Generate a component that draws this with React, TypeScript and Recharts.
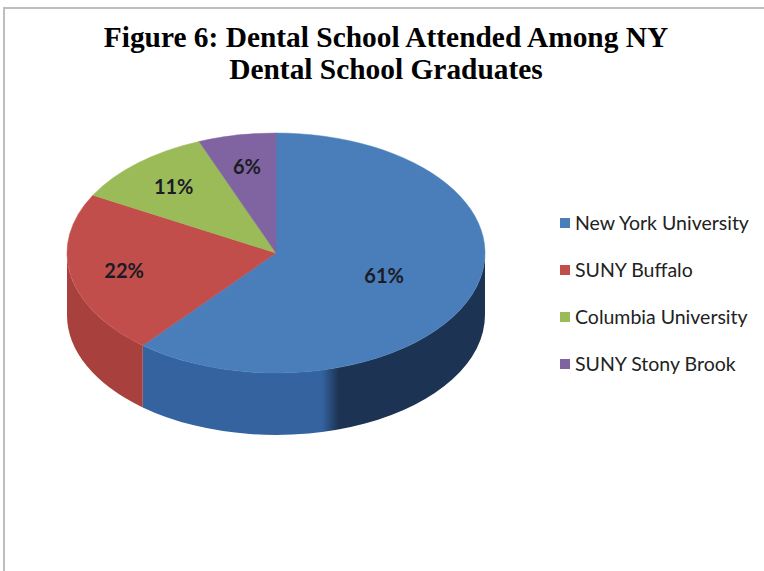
import React from "react";
import { PieChart, Pie, Cell, Legend } from "recharts";

const categories = [
  "New York University",
  "SUNY Buffalo",
  "Columbia University",
  "SUNY Stony Brook",
];
const shares = [61, 22, 11, 6];
const topColors = ["#4a7ebb", "#c24e4b", "#9bbb59", "#8064a2"];
const sideLight = ["#3463a0", "#a8413e", "#7d9a44", "#664f85"];
const sideDark = ["#1d3353", "#8a312e", "#5f7733", "#4c3a64"];

const data = categories.map((name, i) => ({ name, value: shares[i] }));

const TILT = 0.574; // ry / rx of the top face
const DEPTH = 62; // thickness of the disc in px
const RAD = Math.PI / 180;

function pt(cx: number, cy: number, rx: number, a: number) {
  return [cx + rx * Math.cos(a * RAD), cy - rx * TILT * Math.sin(a * RAD)];
}

function Slice3D(props: any) {
  const { cx, cy, outerRadius: rx, startAngle, endAngle, fill } = props;
  const ry = rx * TILT;
  const name = props.name ?? props.payload?.name;
  const idx = Math.max(0, categories.indexOf(name));
  const hi = Math.max(startAngle, endAngle);
  const lo = Math.min(startAngle, endAngle);

  // front rim: parts of the slice where the angle lies in the lower half
  const sides: string[] = [];
  for (let n = -2; n <= 2; n++) {
    const a = Math.max(lo, -180 + 360 * n);
    const b = Math.min(hi, 360 * n);
    if (b > a) {
      const [x1, y1] = pt(cx, cy, rx, b);
      const [x2, y2] = pt(cx, cy, rx, a);
      sides.push(
        `M${x1},${y1} A${rx},${ry} 0 0 1 ${x2},${y2} L${x2},${y2 + DEPTH} A${rx},${ry} 0 0 0 ${x1},${y1 + DEPTH} Z`
      );
    }
  }

  const [sx, sy] = pt(cx, cy, rx, hi);
  const [ex, ey] = pt(cx, cy, rx, lo);
  const large = hi - lo > 180 ? 1 : 0;
  const top = `M${cx},${cy} L${sx},${sy} A${rx},${ry} 0 ${large} 1 ${ex},${ey} Z`;

  return (
    <g>
      {sides.map((d, i) => (
        <path key={i} d={d} fill={`url(#side-${idx})`} stroke="none" />
      ))}
      <path d={top} fill={fill} stroke={fill} strokeWidth={0.5} />
    </g>
  );
}

function renderLabel(p: any) {
  const { cx, cy, midAngle, outerRadius, value } = p;
  const f = value > 50 ? 0.55 : 0.74;
  const x = cx + outerRadius * f * Math.cos(midAngle * RAD);
  const y = cy - outerRadius * TILT * f * Math.sin(midAngle * RAD);
  return (
    <text
      x={x}
      y={y}
      textAnchor="middle"
      dominantBaseline="central"
      fill="#1b1b24"
      style={{ fontFamily: "Lato, 'Open Sans', sans-serif", fontWeight: 700, fontSize: 20 }}
    >
      {`${value}%`}
    </text>
  );
}

function LegendList({ payload }: any) {
  const items = [...(payload || [])].sort(
    (a: any, b: any) => categories.indexOf(a.value) - categories.indexOf(b.value)
  );
  return (
    <ul style={{ listStyle: "none", margin: 0, padding: 0 }}>
      {items.map((e: any) => (
        <li
          key={e.value}
          style={{ display: "flex", alignItems: "center", height: 47 }}
        >
          <span
            style={{
              display: "inline-block",
              width: 10,
              height: 10,
              background: e.color,
              marginRight: 5,
            }}
          />
          <span
            style={{
              fontFamily: "Lato, 'Open Sans', sans-serif",
              fontSize: 19.5,
              color: "#222",
            }}
          >
            {e.value}
          </span>
        </li>
      ))}
    </ul>
  );
}

export default function App() {
  return (
    <div
      style={{
        position: "fixed",
        left: 0,
        top: 0,
        width: 764,
        height: 571,
        background: "#fff",
        overflow: "hidden",
      }}
    >
      <div
        style={{
          position: "absolute",
          left: 3,
          top: 7,
          width: 800,
          height: 600,
          borderTop: "2px solid #bdbdbd",
          borderLeft: "2px solid #bdbdbd",
        }}
      />
      <div
        style={{
          position: "absolute",
          left: 0,
          top: 21,
          width: 772,
          textAlign: "center",
          fontFamily: "'Liberation Serif', 'Times New Roman', serif",
          fontWeight: 700,
          fontSize: 29.4,
          lineHeight: "32px",
          color: "#000",
        }}
      >
        Figure 6: Dental School Attended Among NY
        <br />
        Dental School Graduates
      </div>
      <div style={{ position: "absolute", left: 0, top: 0 }}>
        <PieChart width={764} height={571} margin={{ top: 0, right: 0, bottom: 0, left: 0 }}>
          <defs>
            {categories.map((c, i) => (
              <linearGradient
                key={c}
                id={`side-${i}`}
                gradientUnits="userSpaceOnUse"
                x1={67}
                y1={0}
                x2={485}
                y2={0}
              >
                <stop offset="0%" stopColor={sideLight[i]} />
                <stop offset="61%" stopColor={sideLight[i]} />
                <stop offset="65%" stopColor={sideDark[i]} />
                <stop offset="100%" stopColor={sideDark[i]} />
              </linearGradient>
            ))}
          </defs>
          <Pie
            data={data}
            dataKey="value"
            nameKey="name"
            cx={276}
            cy={253}
            outerRadius={209}
            startAngle={90}
            endAngle={-270}
            stroke="none"
            label={renderLabel}
            labelLine={false}
            shape={Slice3D}
            activeShape={Slice3D}
            inactiveShape={Slice3D}
            isAnimationActive={false}
          >
            {data.map((d, i) => (
              <Cell key={d.name} fill={topColors[i]} />
            ))}
          </Pie>
          <Legend
            layout="vertical"
            align="right"
            verticalAlign="top"
            content={LegendList}
            wrapperStyle={{ left: 560, top: 199, width: 200 }}
          />
        </PieChart>
      </div>
    </div>
  );
}
